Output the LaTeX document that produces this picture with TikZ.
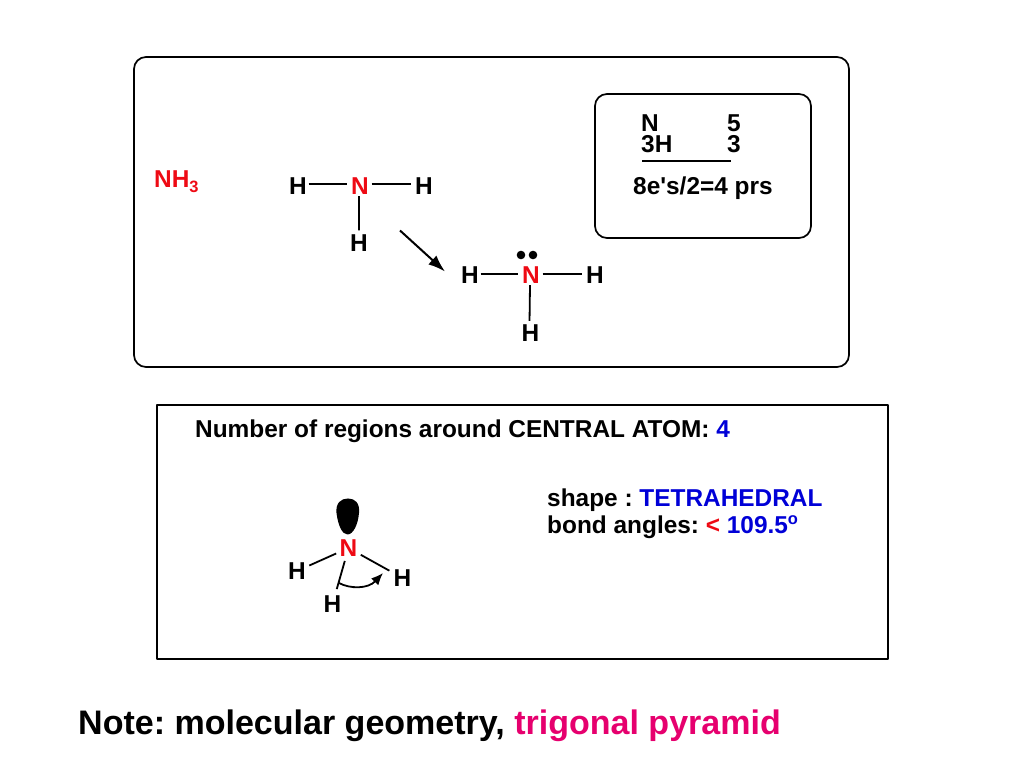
\documentclass[tikz,border=0pt]{standalone}
\usepackage{fontspec}
\setmainfont{Liberation Sans}
\usetikzlibrary{arrows.meta}
\usetikzlibrary{shapes}
\definecolor{notepink}{RGB}{230,0,110}
\definecolor{atomred}{RGB}{238,10,20}
\definecolor{valueblue}{RGB}{0,0,215}
\frenchspacing
\tikzset{
  atomlabel/.style={font=\fontsize{24.5}{24.5}\selectfont\bfseries,inner sep=1.5bp},
  redatom/.style={atomlabel,text=atomred},
  bodytext/.style={font=\fontsize{24.5}{24.5}\selectfont\bfseries,anchor=base west,inner sep=0pt},
  countcolumn/.style={font=\fontsize{24.5}{21}\selectfont\bfseries,anchor=south west,inner sep=0pt,align=left},
  bond/.style={line width=1.8bp,black},
  panel/.style={draw,line width=1.7bp,inner sep=0pt,fill=none},
}
\begin{document}
\begin{tikzpicture}[>=latex,line join=bevel,]
\useasboundingbox (0bp,0bp) rectangle (1024bp,768bp);
%% panels
\node (panel_top) at (491.5bp,556bp) [panel,rounded corners=12bp,minimum width=715bp,minimum height=310bp] {};
\node (panel_count) at (703bp,602bp) [panel,rounded corners=12bp,minimum width=216bp,minimum height=144bp] {};
\node (panel_shape) at (522.5bp,236bp) [panel,minimum width=731bp,minimum height=254bp] {};
%% top panel
\node (formula) at (154bp,580bp) [bodytext,text=atomred] {NH\raisebox{-5bp}{\fontsize{16.5}{16.5}\selectfont 3}};
\node (atom_n1) at (360bp,582bp) [redatom] {N};
\node (atom_h1) at (298bp,582bp) [atomlabel] {H};
\node (atom_h2) at (424bp,582bp) [atomlabel] {H};
\node (atom_h3) at (359bp,524.5bp) [atomlabel] {H};
\draw [bond,shorten >=2bp] ([yshift=2bp]atom_h1.east) -- ([yshift=2bp]atom_n1.west);
\draw [bond,shorten <=1bp,shorten >=2bp] ([yshift=2bp]atom_n1.east) -- ([yshift=2bp]atom_h2.west);
\draw [bond,shorten >=3bp] ([xshift=-1bp]atom_n1.south) -- (atom_h3.north);
\coordinate (react_from) at (400bp,537.5bp);
\coordinate (react_to) at (445bp,496.5bp);
\draw [line width=2bp,-{Latex[length=17bp,width=12bp]}] (react_from) -- (react_to);
\node (atom_n2) at (531bp,493bp) [redatom] {N};
\node (atom_h4) at (470bp,493bp) [atomlabel] {H};
\node (atom_h5) at (595bp,493bp) [atomlabel] {H};
\node (atom_h6) at (530.5bp,435bp) [atomlabel] {H};
\draw [bond,shorten >=2bp] ([yshift=1bp]atom_h4.east) -- ([yshift=1bp]atom_n2.west);
\draw [bond,shorten <=1bp,shorten >=2bp] ([yshift=1bp]atom_n2.east) -- ([yshift=1bp]atom_h5.west);
\draw [bond,shorten >=2bp] ([xshift=-1bp]atom_n2.south) -- ([xshift=-1bp]atom_h6.north);
\fill (521bp,513bp) circle (4.3bp) (533bp,513bp) circle (4.3bp);
%% electron count
\node (count_atoms) at (641bp,615bp) [countcolumn] {N\\3H};
\node (count_values) at (727bp,615bp) [countcolumn] {5\\3};
\coordinate (sum_left) at (642bp,607bp);
\coordinate (sum_right) at (731bp,607bp);
\draw [bond] (sum_left) -- (sum_right);
\node (count_total) at (633bp,573bp) [bodytext] {8e\textquotesingle s/2=4 prs};
%% lower panel
\node (regions) at (195bp,330.5bp) [bodytext] {Number of regions around CENTRAL ATOM: \textcolor{valueblue}{4}};
\node (shape_line) at (547bp,261bp) [bodytext] {shape : \textcolor{valueblue}{TETRAHEDRAL}};
\node (angle_line) at (547bp,234.5bp) [bodytext] {bond angles: \textcolor{atomred}{<} \textcolor{valueblue}{109.5\raisebox{9bp}{\fontsize{16.5}{16.5}\selectfont o}}};
\fill (347.5bp,233.5bp) .. controls (342bp,233.5bp) and (338bp,243bp) .. (336.5bp,255bp)
  .. controls (335.5bp,265bp) and (341bp,269.5bp) .. (348bp,269.5bp)
  .. controls (355bp,269.5bp) and (360bp,265bp) .. (359bp,255bp)
  .. controls (358bp,243bp) and (353bp,233.5bp) .. (347.5bp,233.5bp) -- cycle;
\node (atom_n3) at (348.5bp,220bp) [redatom] {N};
\node (atom_h7) at (297bp,197bp) [atomlabel] {H};
\node (atom_h8) at (402.5bp,190bp) [atomlabel] {H};
\node (atom_h9) at (332.5bp,164bp) [atomlabel] {H};
\draw [bond,shorten <=2bp,shorten >=2bp] (atom_h7) -- (atom_n3);
\draw [bond,shorten <=2bp,shorten >=3bp] (atom_n3) -- (atom_h8);
\draw [bond,shorten <=3bp,shorten >=5bp] (atom_n3) -- (atom_h9);
\coordinate (angle_from) at (339bp,185bp);
\coordinate (angle_to) at (383bp,195bp);
\draw [line width=1.8bp,-{Latex[length=12bp,width=10bp]}] (angle_from) .. controls (350bp,179bp) and (368bp,179bp) .. (angle_to);
%% note
\node (note) at (78bp,34bp) [bodytext,font=\fontsize{34.15}{34.15}\selectfont\bfseries] {Note: molecular geometry, \textcolor{notepink}{trigonal pyramid}};
%
\end{tikzpicture}
\end{document}
